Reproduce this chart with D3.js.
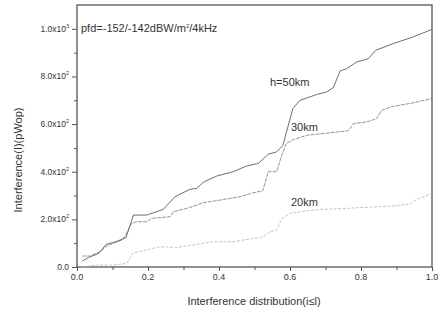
<!DOCTYPE html>
<meta charset="utf-8">
<style>
body { margin: 0; background: #fff; }
svg text { font-family: Arial, "Liberation Sans", sans-serif; fill: #333; }
.frame { fill: none; stroke: #555; stroke-width: 1.3; }
.tick line { stroke: #555; }
</style>
<svg width="441" height="311"></svg>
<script src="https://d3js.org/d3.v7.min.js"></script>
<script>
// data: x = distribution, y = interference (pWop)
var x50 = [0.015,0.032,0.061,0.082,0.107,0.138,0.159,0.196,0.243,0.276,0.318,0.337,0.358,0.394,0.44,0.478,0.511,0.539,0.562,0.58,0.608,0.628,0.675,0.703,0.722,0.741,0.76,0.788,0.821,0.842,0.891,0.947,0.999];
var y50 = [25,40,57,95,105,123,218,218,242,295,326,330,358,382,400,424,435,474,483,511,665,700,724,735,753,823,833,861,875,910,938,966,997];
var x30 = [0.015,0.037,0.065,0.084,0.102,0.13,0.154,0.168,0.196,0.21,0.262,0.271,0.309,0.356,0.403,0.459,0.497,0.523,0.539,0.562,0.577,0.59,0.61,0.647,0.722,0.764,0.779,0.816,0.844,0.858,0.891,0.947,0.999];
var y30 = [46,46,64,88,99,116,183,190,190,204,211,232,246,270,281,295,312,320,400,400,470,520,535,553,565,572,602,609,623,658,675,689,707];
var x20 = [0.015,0.055,0.102,0.14,0.159,0.196,0.215,0.234,0.281,0.384,0.44,0.525,0.544,0.562,0.577,0.6,0.647,0.685,0.76,0.806,0.891,0.938,0.957,0.999];
var y20 = [0,8,8,15,60,71,78,85,82,106,106,127,148,155,204,225,236,242,246,250,256,264,284,309];
var xTicks = [0, 0.2, 0.4, 0.6, 0.8, 1.0];
var xTickLabels = ["0.0", "0.2", "0.4", "0.6", "0.8", "1.0"];
var yTicks = [0, 200, 400, 600, 800, 1000];
var yTickMant = ["0.0", "2.0x10", "4.0x10", "6.0x10", "8.0x10", "1.0x10"];
var yTickExp = ["", "2", "2", "2", "2", "3"];

var svg = d3.select("svg");
var mLeft = 77, mRight = 432, mTop = 5, mBottom = 267;

var x = d3.scaleLinear().domain([0, 1]).range([mLeft, mRight]);
var y = d3.scaleLinear().domain([0, 1100]).range([mBottom, mTop]);

// axes, ticks outside
var xAxis = svg.append("g").attr("transform", "translate(0," + mBottom + ")")
    .call(d3.axisBottom(x).tickValues(d3.range(0, 1.01, 0.1)).tickSize(3).tickFormat(""));
xAxis.select(".domain").remove();
xAxis.selectAll(".tick line").attr("y2", (d, i) => i % 2 == 0 ? 4 : 3);
svg.append("g").selectAll("text").data(xTicks).join("text")
    .attr("x", d => x(d)).attr("y", mBottom + 13)
    .attr("text-anchor", "middle").attr("font-size", 9)
    .text((d, i) => xTickLabels[i]);

var yAxis = svg.append("g").attr("transform", "translate(" + mLeft + ",0)")
    .call(d3.axisLeft(y).tickValues(d3.range(0, 1001, 100)).tickSize(3).tickFormat(""));
yAxis.select(".domain").remove();
yAxis.selectAll(".tick line").attr("x2", (d, i) => i % 2 == 0 ? -5 : -3);
var yl = svg.append("g").selectAll("text").data(yTicks).join("text")
    .attr("x", mLeft - 8).attr("y", d => y(d) + 3)
    .attr("text-anchor", "end").attr("font-size", 8.5);
yl.each(function (d, i) {
  var t = d3.select(this);
  t.append("tspan").text(yTickMant[i]);
  if (yTickExp[i]) t.append("tspan").attr("dy", -4).attr("font-size", 5.5).text(yTickExp[i]);
});

svg.append("rect").attr("class", "frame")
    .attr("x", mLeft).attr("y", mTop).attr("width", mRight - mLeft).attr("height", mBottom - mTop);

var line = d3.line().x(d => x(d[0])).y(d => y(d[1]));
function series(xs, ys, col, w, dash) {
  svg.append("path")
      .datum(xs.map((v, i) => [v, ys[i]]))
      .attr("fill", "none").attr("stroke", col).attr("stroke-width", w)
      .attr("stroke-dasharray", dash)
      .attr("d", line);
}
series(x20, y20, "#bdbdbd", 0.9, "3,1.5");
series(x30, y30, "#888", 0.9, "4,1");
series(x50, y50, "#5e5e5e", 0.9, null);

// labels
svg.append("text").attr("x", 81).attr("y", 32).attr("font-size", 11)
    .html('pfd=-152/-142dBW/m<tspan dy="-4" font-size="6">2</tspan><tspan dy="4">/4kHz</tspan>');
svg.append("text").attr("x", 270).attr("y", 86).attr("font-size", 11).text("h=50km");
svg.append("text").attr("x", 291).attr("y", 131).attr("font-size", 11).text("30km");
svg.append("text").attr("x", 291).attr("y", 206).attr("font-size", 11).text("20km");

svg.append("text").attr("x", 254).attr("y", 305).attr("text-anchor", "middle").attr("font-size", 11)
    .text("Interference distribution(i\u2264l)");
svg.append("text").attr("transform", "translate(22,160) rotate(-90)")
    .attr("text-anchor", "middle").attr("font-size", 11)
    .text("Interference(I)(pWop)");
</script>
